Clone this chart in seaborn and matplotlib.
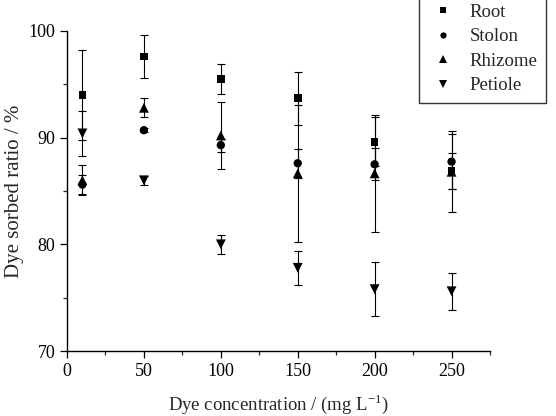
import numpy as np
import pandas as pd
import matplotlib.pyplot as plt
import seaborn as sns
from matplotlib.ticker import MultipleLocator

sns.set_theme(style="ticks")
plt.rcParams['font.family'] = ['Liberation Serif', 'DejaVu Serif']
plt.rcParams['mathtext.fontset'] = 'custom'
plt.rcParams['mathtext.rm'] = 'Liberation Serif'

# данные
conc = [10, 50, 100, 150, 200, 250]
parts = ['Root', 'Stolon', 'Rhizome', 'Petiole']
root = [94.0, 97.6, 95.5, 93.7, 89.6, 86.9]
root_err = [4.2, 2.0, 1.4, 2.5, 2.3, 1.7]
stolon = [85.6, 90.7, 89.3, 87.6, 87.5, 87.75]
stolon_err = [0.9, 0.2, 0.6, 1.35, 1.5, 2.6]
rhizome = [86.0, 92.8, 90.2, 86.65, 86.65, 86.8]
rhizome_err = [1.4, 0.9, 3.1, 6.4, 5.5, 3.8]
petiole = [90.4, 86.0, 80.0, 77.8, 75.8, 75.6]
petiole_err = [2.1, 0.4, 0.9, 1.6, 2.55, 1.75]

vals = {'Root': (root, root_err), 'Stolon': (stolon, stolon_err),
        'Rhizome': (rhizome, rhizome_err), 'Petiole': (petiole, petiole_err)}
df = pd.DataFrame([
    {'conc': c, 'part': p, 'ratio': v, 'err': e}
    for p in parts for c, v, e in zip(conc, *vals[p])
])

fig = plt.figure(figsize=(5.56, 4.16), dpi=100)
ax = fig.add_axes([0.1205, 0.15625, 0.7608, 0.7693])

# планки погрешностей
for p in parts:
    d = df[df['part'] == p]
    ax.errorbar(d['conc'], d['ratio'], yerr=d['err'], fmt='none',
                ecolor='black', elinewidth=0.8, capsize=3, capthick=0.8, zorder=2)

markers = {'Root': 's', 'Stolon': 'o', 'Rhizome': '^', 'Petiole': 'v'}
sizes = {'Root': 30, 'Stolon': 36, 'Rhizome': 50, 'Petiole': 50}
sns.scatterplot(data=df, x='conc', y='ratio', hue='part', style='part',
                size='part', sizes=sizes, markers=markers,
                palette=['black'] * 4, linewidth=0, ax=ax, zorder=3, legend=True)

ax.set_xlim(0, 275)
ax.set_ylim(70, 100)
ax.xaxis.set_major_locator(MultipleLocator(50))
ax.xaxis.set_minor_locator(MultipleLocator(25))
ax.yaxis.set_major_locator(MultipleLocator(10))
ax.yaxis.set_minor_locator(MultipleLocator(5))
ax.tick_params(which='major', direction='out', length=5, width=0.9,
               labelsize=13, colors='black')
ax.tick_params(which='minor', direction='out', length=3, width=0.9)
for s in ['top', 'right']:
    ax.spines[s].set_visible(False)
for s in ['left', 'bottom']:
    ax.spines[s].set_linewidth(1.0)
    ax.spines[s].set_color('black')

ax.set_xlabel('Dye concentration / (mg L$^{-1}$)', fontsize=13.5, labelpad=9)
ax.set_ylabel('Dye sorbed ratio / %', fontsize=15, labelpad=3)

handles, labels = ax.get_legend_handles_labels()
ax.get_legend().remove()
leg = fig.legend(handles, labels, loc='upper right',
                 bbox_to_anchor=(546 / 556, 1.012),
                 borderaxespad=0, frameon=True, fancybox=False, edgecolor='black',
                 fontsize=13.5, handlelength=1.66, handletextpad=0.57,
                 labelspacing=0.4, borderpad=0.45, markerscale=0.75)
leg.get_frame().set_linewidth(1.0)

fig.savefig('out.png', dpi=100)
